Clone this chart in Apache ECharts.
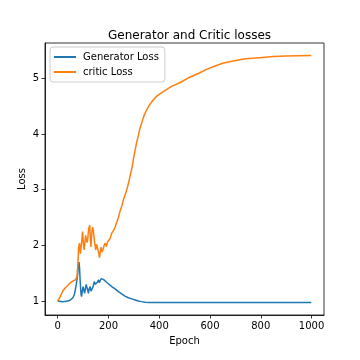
<!DOCTYPE html>
<html><head><meta charset="utf-8">
<script src="https://cdn.jsdelivr.net/npm/echarts@6/dist/echarts.min.js"></script>
<style>html,body{margin:0;padding:0;background:#fff}#c{width:360px;height:360px}</style>
</head><body><div id="c"></div>
<script>
const xTicks = [0, 200, 400, 600, 800, 1000];
const yTicks = [1, 2, 3, 4, 5];
const genEpochs = [0,20,40,50,60,66,73,78,81,84,86,89,92,94,97,100,103,106,109,112,115,118,121,124,128,131,135,139,144,148,152,156,161,164,167,171,174,177,180,187,195,200,213,226,239,252,265,278,292,305,318,330,344,360,400,500,600,700,800,900,999];
const genLoss = [1.00,0.99,1.00,1.02,1.06,1.12,1.29,1.45,1.62,1.70,1.60,1.32,1.12,1.08,1.18,1.26,1.20,1.14,1.22,1.30,1.32,1.20,1.14,1.22,1.26,1.18,1.17,1.25,1.35,1.30,1.29,1.34,1.38,1.33,1.35,1.40,1.41,1.38,1.39,1.36,1.33,1.31,1.26,1.22,1.17,1.13,1.09,1.06,1.04,1.02,1.00,0.99,0.98,0.975,0.975,0.975,0.975,0.975,0.975,0.975,0.975];
const criticEpochs = [0,10,20,30,40,50,60,70,76,80,82,86,89,92,95,98,101,104,106,110,113,116,119,122,126,129,131,134,137,140,144,147,150,153,157,161,165,168,171,175,178,183,187,192,196,200,206,213,220,226,233,239,246,252,259,265,272,279,285,292,298,305,311,318,324,331,340,350,363,376,390,416,450,481,520,560,586,620,650,690,740,795,850,900,950,999];
const criticLoss = [1.00,1.08,1.18,1.24,1.28,1.33,1.36,1.38,1.44,1.70,1.95,2.04,1.85,1.95,2.10,2.25,2.05,1.92,2.00,2.18,2.10,2.05,2.15,2.30,2.36,2.10,1.97,2.20,2.33,2.28,2.10,2.00,1.92,2.02,2.04,1.88,1.78,1.90,1.97,1.88,1.92,2.00,2.04,1.98,2.06,2.08,2.12,2.22,2.27,2.33,2.42,2.50,2.62,2.70,2.82,2.90,3.00,3.12,3.24,3.38,3.54,3.71,3.85,3.98,4.10,4.20,4.33,4.43,4.53,4.61,4.68,4.76,4.86,4.92,5.02,5.10,5.16,5.22,5.27,5.31,5.35,5.37,5.39,5.40,5.405,5.41];

const font = 'DejaVu Sans';
const chart = echarts.init(document.getElementById('c'), null, {renderer: 'canvas'});
chart.setOption({
  animation: false,
  backgroundColor: '#fff',
  textStyle: {fontFamily: font},
  title: {
    text: 'Generator and Critic losses',
    left: 184.5, textAlign: 'center', top: 25,
    textStyle: {fontFamily: font, fontSize: 12, fontWeight: 'normal', color: '#000'}
  },
  legend: {
    orient: 'vertical', left: 50, top: 47,
    backgroundColor: 'rgba(255,255,255,0.8)', borderColor: '#ccc', borderWidth: 1, borderRadius: 3,
    padding: [5, 6, 5, 4], itemGap: 5, itemWidth: 22, itemHeight: 2, icon: 'rect',
    textStyle: {fontFamily: font, fontSize: 10, color: '#000', padding: [0, 0, 0, 2]},
    data: ['Generator Loss', 'critic Loss']
  },
  grid: {left: 45, right: 36, top: 43, bottom: 45, show: true, borderColor: '#000', borderWidth: 0.8, containLabel: false},
  xAxis: {
    type: 'value', min: -50, max: 1049,
    name: 'Epoch', nameLocation: 'middle', nameGap: 21,
    nameTextStyle: {fontFamily: font, fontSize: 10, color: '#000'},
    axisLine: {show: true, onZero: false, lineStyle: {color: '#000', width: 0.8}},
    axisTick: {show: true, length: 3.5, lineStyle: {color: '#000', width: 0.8}, customValues: xTicks},
    axisLabel: {color: '#000', fontSize: 10, fontFamily: font, margin: 6, customValues: xTicks, formatter: v => String(v)},
    splitLine: {show: false}
  },
  yAxis: {
    type: 'value', min: 0.75, max: 5.634,
    name: 'Loss', nameLocation: 'middle', nameGap: 18, nameMoveOverlap: false,
    nameTextStyle: {fontFamily: font, fontSize: 10, color: '#000'},
    axisLine: {show: true, onZero: false, lineStyle: {color: '#000', width: 0.8}},
    axisTick: {show: true, length: 3.5, lineStyle: {color: '#000', width: 0.8}, customValues: yTicks},
    axisLabel: {color: '#000', fontSize: 10, fontFamily: font, margin: 6, customValues: yTicks, formatter: v => String(v)},
    splitLine: {show: false}
  },
  series: [
    {name: 'Generator Loss', type: 'line', showSymbol: false, symbol: 'none',
     color: '#1f77b4', lineStyle: {width: 1.5, color: '#1f77b4'},
     data: genEpochs.map((e, i) => [e, genLoss[i]])},
    {name: 'critic Loss', type: 'line', showSymbol: false, symbol: 'none',
     color: '#ff7f0e', lineStyle: {width: 1.5, color: '#ff7f0e'},
     data: criticEpochs.map((e, i) => [e, criticLoss[i]])}
  ]
});
</script></body></html>
